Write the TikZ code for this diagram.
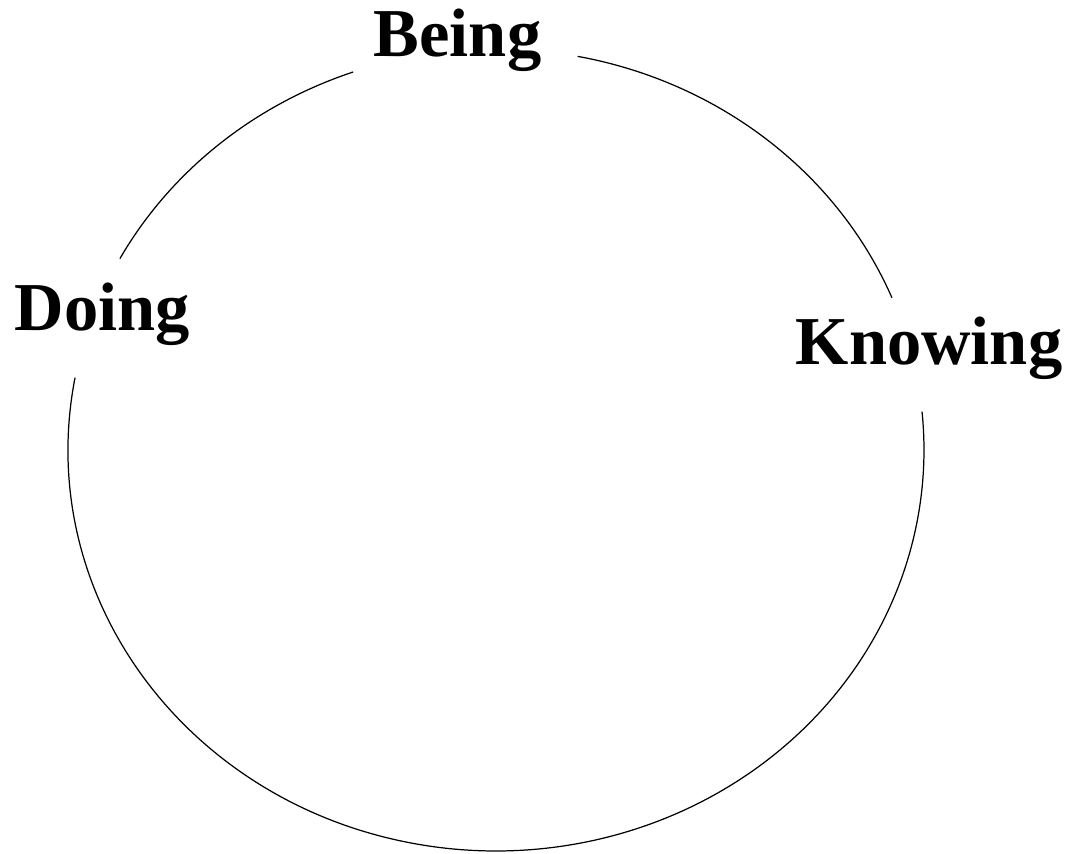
\documentclass[tikz,border=0pt]{standalone}
\usepackage{fontspec}
\setmainfont{Liberation Serif}
\begin{document}
\begin{tikzpicture}[x=0.02cm,y=0.02cm,
  lbl/.style={anchor=base,inner sep=0pt,font=\fontsize{39}{47}\selectfont\bfseries},
  ring/.style={line width=0.7pt,black}]
\useasboundingbox (0,0) rectangle (1075,853);
\def\cx{496}\def\cy{403}\def\rx{428}\def\ry{401}
\node[lbl] (being) at (457.5,{853-57}) {Being};
\node[lbl] (doing) at (102.5,{853-331}) {Doing};
\node[lbl] (knowing) at (929,{853-365}) {Knowing};
\draw[ring] ({\cx+\rx*cos(109.5)},{\cy+\ry*sin(109.5)}) arc[start angle=109.5,end angle=151.5,x radius=\rx,y radius=\ry];
\draw[ring] ({\cx+\rx*cos(169.6)},{\cy+\ry*sin(169.6)}) arc[start angle=169.6,end angle=365.5,x radius=\rx,y radius=\ry];
\draw[ring] ({\cx+\rx*cos(22.3)},{\cy+\ry*sin(22.3)}) arc[start angle=22.3,end angle=79,x radius=\rx,y radius=\ry];
\end{tikzpicture}
\end{document}
